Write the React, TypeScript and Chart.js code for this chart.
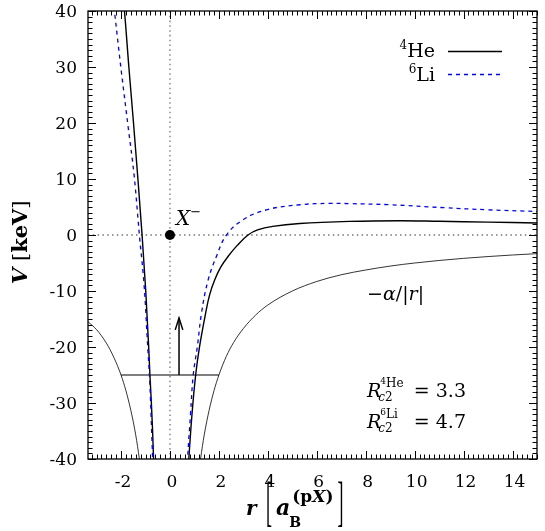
import React, { useEffect, useRef } from "react";
import { Chart, registerables } from "chart.js";
Chart.register(...registerables);

const X_MIN = -3.35;
const X_MAX = 15;
const Y_MIN = -40;
const Y_MAX = 40;

const xTickValues = [-2, 0, 2, 4, 6, 8, 10, 12, 14];
const xTickLabels = ["-2", "0", "2", "4", "6", "8", "10", "12", "14"];
const yTickValues = [-40, -30, -20, -10, 0, 10, 20, 30, 40];
const yTickLabels = ["-40", "-30", "-20", "-10", "0", "10", "20", "30", "40"];

// 4He potential
const heLeftR = [-1.98, -1.86, -1.68, -1.49, -1.31, -1.14, -0.99, -0.87, -0.82, -0.76, -0.71, -0.67, -0.64];
const heLeftV = [45, 40, 30, 20, 10, 0, -10, -20, -25, -30, -35, -40, -45];
const heRightR = [0.7, 0.77, 0.9, 1.05, 1.21, 1.46, 1.62, 1.83, 2.08, 2.38, 2.74, 3.19, 3.58, 4.2, 5.3, 7.34, 9.4, 11, 13, 15];
const heRightV = [-45, -40, -32, -25, -19.9, -13.9, -10.7, -8, -5.7, -3.8, -1.9, 0, 0.9, 1.54, 2.05, 2.43, 2.55, 2.45, 2.3, 2.15];

// 6Li potential
const liLeftR = [-2.4, -2.27, -2.01, -1.73, -1.45, -1.25, -1.04, -0.91, -0.84, -0.79, -0.75, -0.71, -0.68];
const liLeftV = [45, 40, 30, 20, 10, 0, -10, -20, -25, -30, -35, -40, -45];
const liRightR = [0.68, 0.72, 0.84, 0.95, 1.12, 1.29, 1.56, 1.9, 2.31, 2.99, 3.95, 5.3, 6.5, 7.34, 9, 11.2, 13, 15];
const liRightV = [-45, -40, -32, -25, -19.9, -13.9, -8, -3.8, 0, 2.73, 4.5, 5.4, 5.65, 5.6, 5.4, 4.88, 4.5, 4.2];

// Coulomb -alpha/|r|
const coulLeftR = [-3.35, -3, -2.6, -2.3, -2, -1.8, -1.6, -1.4, -1.25, -1.18];
const coulLeftV = [-15.5, -16.9, -19.3, -21.8, -25, -27.8, -31.3, -35.7, -40, -42.4];
const coulRightR = [1.18, 1.25, 1.4, 1.6, 1.8, 2, 2.3, 2.6, 3, 3.5, 4, 5, 6, 7, 8, 9, 10, 11, 12, 13, 14, 15];
const coulRightV = [-42.4, -40, -35.7, -31.3, -27.8, -25, -21.7, -19.2, -16.7, -14.3, -12.5, -10, -8.3, -7.1, -6.25, -5.55, -5, -4.55, -4.17, -3.85, -3.57, -3.33];

// bound level and arrow
const levelR = [-2, 2];
const levelV = [-25, -25];
const arrowR = [0.37, 0.37];
const arrowV = [-25, -14.8];
const xPointR = [0];
const xPointV = [0];

const SERIF = '"DejaVu Serif", "Liberation Serif", serif';

function pts(rs: number[], vs: number[]) {
  return rs.map((x, i) => ({ x, y: vs[i] }));
}

type Seg = { t: string; f: string; dy?: number };

function seqWidth(ctx: CanvasRenderingContext2D, segs: Seg[]) {
  let w = 0;
  for (const s of segs) {
    ctx.font = s.f;
    w += ctx.measureText(s.t).width;
  }
  return w;
}

function drawSeq(ctx: CanvasRenderingContext2D, x: number, y: number, segs: Seg[]) {
  for (const s of segs) {
    ctx.font = s.f;
    ctx.fillText(s.t, x, y + (s.dy || 0));
    x += ctx.measureText(s.t).width;
  }
  return x;
}

const decorPlugin = {
  id: "decor",
  afterDatasetsDraw(chart: any) {
    const ctx: CanvasRenderingContext2D = chart.ctx;
    const { left, right, top, bottom } = chart.chartArea;
    const xs = chart.scales.x;
    const ys = chart.scales.y;
    ctx.save();
    ctx.fillStyle = "#000";
    ctx.strokeStyle = "#000";

    // arrow head
    const ax = xs.getPixelForValue(arrowR[1]);
    const ay = ys.getPixelForValue(arrowV[1]);
    ctx.lineWidth = 1.5;
    ctx.beginPath();
    ctx.moveTo(ax - 3.8, ay + 12);
    ctx.lineTo(ax, ay);
    ctx.lineTo(ax + 3.8, ay + 12);
    ctx.stroke();

    // frame
    ctx.lineWidth = 1.3;
    ctx.strokeRect(left, top, right - left, bottom - top);

    // ticks (inward, all four sides)
    ctx.lineWidth = 1;
    ctx.beginPath();
    const xMinorStep = 0.2;
    for (let k = Math.ceil(X_MIN / xMinorStep); k * xMinorStep <= X_MAX + 1e-9; k++) {
      const v = k * xMinorStep;
      const isMajor = Math.abs(v / 2 - Math.round(v / 2)) < 1e-6;
      const len = isMajor ? 8 : 4.5;
      const px = Math.round(xs.getPixelForValue(v)) + 0.5;
      ctx.moveTo(px, bottom);
      ctx.lineTo(px, bottom - len);
      ctx.moveTo(px, top);
      ctx.lineTo(px, top + len);
    }
    for (let v = Y_MIN; v <= Y_MAX; v += 1) {
      const isMajor = v % 10 === 0;
      const len = isMajor ? 8 : 4.5;
      const py = Math.round(ys.getPixelForValue(v)) + 0.5;
      ctx.moveTo(left, py);
      ctx.lineTo(left + len, py);
      ctx.moveTo(right, py);
      ctx.lineTo(right - len, py);
    }
    ctx.stroke();

    // tick labels
    ctx.font = `17px ${SERIF}`;
    ctx.textAlign = "center";
    ctx.textBaseline = "alphabetic";
    xTickValues.forEach((v, i) => {
      ctx.fillText(xTickLabels[i], xs.getPixelForValue(v) + 2, 487);
    });
    ctx.textAlign = "right";
    yTickValues.forEach((v, i) => {
      ctx.fillText(yTickLabels[i], 77, ys.getPixelForValue(v) + 6);
    });

    ctx.textAlign = "left";

    // legend
    const legSegHe: Seg[] = [
      { t: "4", f: `12px ${SERIF}`, dy: -8 },
      { t: "He", f: `19px ${SERIF}` },
    ];
    const legSegLi: Seg[] = [
      { t: "6", f: `12px ${SERIF}`, dy: -8 },
      { t: "Li", f: `19px ${SERIF}` },
    ];
    drawSeq(ctx, 435 - seqWidth(ctx, legSegHe), 57, legSegHe);
    drawSeq(ctx, 435 - seqWidth(ctx, legSegLi), 81, legSegLi);
    ctx.lineWidth = 1.4;
    ctx.beginPath();
    ctx.moveTo(448, 51.5);
    ctx.lineTo(502, 51.5);
    ctx.stroke();
    ctx.strokeStyle = "#0000ff";
    ctx.lineWidth = 1.3;
    ctx.setLineDash([4, 4]);
    ctx.beginPath();
    ctx.moveTo(448, 74.5);
    ctx.lineTo(502, 74.5);
    ctx.stroke();
    ctx.setLineDash([]);
    ctx.strokeStyle = "#000";

    // X^- label
    drawSeq(ctx, 176, 225, [
      { t: "X", f: `italic 20px ${SERIF}` },
      { t: "\u2212", f: `13px ${SERIF}`, dy: -9 },
    ]);

    // -alpha/|r|
    drawSeq(ctx, 367, 300, [
      { t: "\u2212", f: `19px ${SERIF}` },
      { t: "\u03b1", f: `italic 19px ${SERIF}` },
      { t: "/|", f: `19px ${SERIF}` },
      { t: "r", f: `italic 19px ${SERIF}` },
      { t: "|", f: `19px ${SERIF}` },
    ]);

    // R_c2 labels
    const drawR = (y: number, a: string, el: string, val: string) => {
      ctx.font = `italic 19px ${SERIF}`;
      ctx.fillText("R", 367, y);
      const x0 = 367 + ctx.measureText("R").width - 1;
      drawSeq(ctx, x0, y - 10, [
        { t: a, f: `9px ${SERIF}`, dy: -3 },
        { t: el, f: `12px ${SERIF}` },
      ]);
      drawSeq(ctx, x0 - 2, y + 4, [
        { t: "c", f: `italic 12px ${SERIF}` },
        { t: "2", f: `12px ${SERIF}` },
      ]);
      ctx.font = `19px ${SERIF}`;
      ctx.textAlign = "right";
      ctx.fillText("= " + val, 466, y);
      ctx.textAlign = "left";
    };
    drawR(397, "4", "He", "3.3");
    drawR(428, "6", "Li", "4.7");

    // x axis title
    ctx.font = `italic bold 20px ${SERIF}`;
    ctx.fillText("r", 246, 515);
    const bracket = (ch: string, x: number) => {
      ctx.save();
      ctx.translate(x, 520);
      ctx.scale(1, 3.0);
      ctx.font = `18px "Liberation Serif", serif`;
      ctx.fillText(ch, 0, 0);
      ctx.restore();
    };
    bracket("[", 266);
    ctx.font = `italic bold 22px ${SERIF}`;
    ctx.fillText("a", 276, 515);
    const aEnd = 276 + ctx.measureText("a").width;
    drawSeq(ctx, aEnd - 1, 527, [{ t: "B", f: `bold 14px ${SERIF}` }]);
    const supEnd = drawSeq(ctx, aEnd + 2, 502, [
      { t: "(", f: `bold 17px ${SERIF}` },
      { t: "p", f: `bold 17px ${SERIF}` },
      { t: "X", f: `italic bold 17px ${SERIF}` },
      { t: ")", f: `bold 17px ${SERIF}` },
    ]);
    bracket("]", supEnd + 4);

    // y axis title (rotated)
    ctx.save();
    ctx.translate(27, 284);
    ctx.rotate(-Math.PI / 2);
    drawSeq(ctx, 0, 0, [
      { t: "V", f: `italic bold 21px ${SERIF}` },
      { t: " ", f: `21px ${SERIF}` },
      { t: "[", f: `21px ${SERIF}` },
      { t: "keV", f: `bold 21px ${SERIF}` },
      { t: "]", f: `21px ${SERIF}` },
    ]);
    ctx.restore();

    ctx.restore();
  },
};

export default function App() {
  const ref = useRef<HTMLCanvasElement | null>(null);
  useEffect(() => {
    document.body.style.margin = "0";
    const canvas = ref.current;
    if (!canvas) return;
    const line = (data: any[], color: string, width: number, dash: number[] = [], order = 0, smooth = false) => ({
      data,
      showLine: true,
      borderColor: color,
      backgroundColor: color,
      borderWidth: width,
      borderDash: dash,
      pointRadius: 0,
      pointHoverRadius: 0,
      cubicInterpolationMode: smooth ? "default" : "monotone",
      tension: smooth ? 0.4 : 0,
      fill: false,
      order,
    });
    const chart = new Chart(canvas, {
      type: "scatter",
      data: {
        datasets: [
          line(pts([X_MIN, X_MAX], [0, 0]), "#777777", 1.3, [1.5, 3.3], 9),
          line(pts([0, 0], [Y_MIN, Y_MAX]), "#777777", 1.3, [1.5, 3.3], 9),
          line(pts(coulLeftR, coulLeftV), "#000000", 0.8, [], 8),
          line(pts(coulRightR, coulRightV), "#000000", 0.8, [], 8),
          line(pts(levelR, levelV), "#000000", 1.2, [], 7),
          line(pts(arrowR, arrowV), "#000000", 1.5, [], 7),
          line(pts(heLeftR, heLeftV), "#000000", 1.4, [], 5),
          line(pts(heRightR, heRightV), "#000000", 1.4, [], 5, true),
          line(pts(liLeftR, liLeftV), "#0000ff", 1.3, [4, 4], 3),
          line(pts(liRightR, liRightV), "#0000ff", 1.3, [4, 4], 3, true),
          {
            data: pts(xPointR, xPointV),
            showLine: false,
            pointRadius: 5,
            pointHoverRadius: 5,
            pointBackgroundColor: "#000",
            pointBorderColor: "#000",
            borderWidth: 0,
            order: 1,
          },
        ] as any,
      },
      options: {
        animation: false,
        responsive: false,
        devicePixelRatio: 1,
        events: [],
        layout: { padding: { left: 0, right: 8, top: 11, bottom: 0 } },
        plugins: { legend: { display: false }, tooltip: { enabled: false } },
        scales: {
          x: {
            type: "linear",
            min: X_MIN,
            max: X_MAX,
            grid: { display: false },
            border: { display: false },
            ticks: { display: false },
            afterFit: (s: any) => {
              s.height = 72;
            },
          },
          y: {
            type: "linear",
            min: Y_MIN,
            max: Y_MAX,
            grid: { display: false },
            border: { display: false },
            ticks: { display: false },
            afterFit: (s: any) => {
              s.width = 88;
            },
          },
        },
      } as any,
      plugins: [decorPlugin],
    });
    return () => chart.destroy();
  }, []);
  return (
    <div style={{ position: "absolute", left: 0, top: 0, width: 545, height: 531, background: "#fff" }}>
      <canvas ref={ref} width={545} height={531} style={{ width: 545, height: 531, display: "block" }} />
    </div>
  );
}
